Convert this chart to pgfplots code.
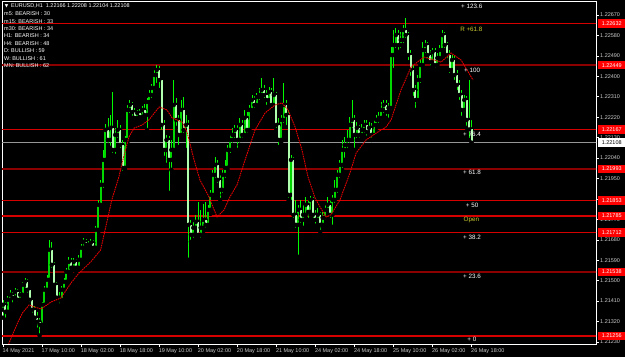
\documentclass[border=0pt]{standalone}
\usepackage{pgfplots}
\pgfplotsset{compat=1.18}
\usepackage{pgfplotstable}
\usepackage{fontspec}
\setmainfont{Liberation Sans}
\newfontfamily\symfont{DejaVu Sans}
\definecolor{wick}{RGB}{0,250,0}
\definecolor{bull}{RGB}{0,215,0}
\definecolor{bear}{RGB}{175,255,175}
\definecolor{lvl}{RGB}{215,0,0}
\definecolor{lvldark}{RGB}{140,0,0}
\definecolor{boxred}{RGB}{255,0,0}
\definecolor{tickgray}{RGB}{205,205,205}
\definecolor{fibyel}{RGB}{205,205,50}
\definecolor{bidgray}{RGB}{150,150,150}
\definecolor{mared}{RGB}{230,0,0}

\pgfplotstableread{
i o h l c
0 1.21372 1.21416 1.21337 1.21394
1 1.21394 1.21407 1.21328 1.21363
2 1.21363 1.21434 1.21354 1.21416
3 1.21416 1.21460 1.21403 1.21438
4 1.21438 1.21451 1.21394 1.21425
5 1.21425 1.21469 1.21416 1.21451
6 1.21451 1.21464 1.21398 1.21416
7 1.21416 1.21451 1.21407 1.21438
8 1.21438 1.21495 1.21425 1.21482
9 1.21482 1.21513 1.21460 1.21495
10 1.21495 1.21508 1.21438 1.21460
11 1.21460 1.21469 1.21398 1.21416
12 1.21416 1.21425 1.21350 1.21372
13 1.21372 1.21390 1.21319 1.21337
14 1.21337 1.21363 1.21284 1.21319
15 1.21319 1.21337 1.21258 1.21306
16 1.21306 1.21407 1.21293 1.21394
17 1.21394 1.21478 1.21381 1.21460
18 1.21460 1.21526 1.21451 1.21504
19 1.21504 1.21680 1.21491 1.21636
20 1.21636 1.21671 1.21548 1.21570
21 1.21570 1.21583 1.21469 1.21482
22 1.21482 1.21495 1.21407 1.21425
23 1.21425 1.21451 1.21390 1.21416
24 1.21416 1.21478 1.21403 1.21460
25 1.21460 1.21513 1.21447 1.21495
26 1.21495 1.21557 1.21482 1.21539
27 1.21539 1.21605 1.21526 1.21583
28 1.21583 1.21601 1.21539 1.21557
29 1.21557 1.21601 1.21548 1.21583
30 1.21583 1.21596 1.21539 1.21557
31 1.21557 1.21614 1.21548 1.21592
32 1.21592 1.21662 1.21583 1.21645
33 1.21645 1.21689 1.21636 1.21671
34 1.21671 1.21684 1.21640 1.21658
35 1.21658 1.21676 1.21632 1.21649
36 1.21649 1.21684 1.21636 1.21667
37 1.21667 1.21680 1.21627 1.21645
38 1.21645 1.21742 1.21632 1.21724
39 1.21724 1.21856 1.21711 1.21834
40 1.21834 1.21944 1.21821 1.21922
41 1.21922 1.22076 1.21900 1.22032
42 1.22032 1.22190 1.22019 1.22164
43 1.22164 1.22217 1.22098 1.22120
44 1.22120 1.22230 1.22085 1.22173
45 1.22173 1.22331 1.22054 1.22076
46 1.22076 1.22173 1.22050 1.22142
47 1.22142 1.22208 1.22120 1.22164
48 1.22164 1.22186 1.22076 1.22098
49 1.22098 1.22120 1.21975 1.21997
50 1.21997 1.22138 1.21988 1.22120
51 1.22120 1.22274 1.22107 1.22252
52 1.22252 1.22296 1.22230 1.22274
53 1.22274 1.22287 1.22217 1.22243
54 1.22243 1.22261 1.22199 1.22217
55 1.22217 1.22252 1.22204 1.22239
56 1.22239 1.22256 1.22208 1.22221
57 1.22221 1.22270 1.22212 1.22252
58 1.22252 1.22278 1.22217 1.22230
59 1.22230 1.22305 1.22164 1.22287
60 1.22287 1.22340 1.22274 1.22318
61 1.22318 1.22366 1.22296 1.22349
62 1.22349 1.22428 1.22331 1.22406
63 1.22406 1.22450 1.22362 1.22428
64 1.22428 1.22446 1.22340 1.22384
65 1.22384 1.22393 1.22155 1.22186
66 1.22186 1.22208 1.22041 1.22076
67 1.22076 1.22142 1.22010 1.22120
68 1.22120 1.22138 1.21887 1.22032
69 1.22032 1.22120 1.21988 1.22076
70 1.22076 1.22384 1.22067 1.22274
71 1.22274 1.22305 1.22173 1.22208
72 1.22208 1.22230 1.22089 1.22142
73 1.22142 1.22296 1.22129 1.22252
74 1.22252 1.22309 1.22142 1.22164
75 1.22164 1.22230 1.22076 1.22186
76 1.22186 1.22208 1.21592 1.21746
77 1.21746 1.21768 1.21671 1.21702
78 1.21702 1.21759 1.21680 1.21733
79 1.21733 1.21790 1.21715 1.21759
80 1.21759 1.21847 1.21689 1.21702
81 1.21702 1.21812 1.21680 1.21733
82 1.21733 1.21838 1.21715 1.21768
83 1.21768 1.21847 1.21724 1.21746
84 1.21746 1.21834 1.21733 1.21812
85 1.21812 1.21900 1.21794 1.21878
86 1.21878 1.21988 1.21865 1.21966
87 1.21966 1.22045 1.21944 1.22010
88 1.22010 1.22032 1.21922 1.21944
89 1.21944 1.21966 1.21856 1.21900
90 1.21900 1.21988 1.21878 1.21966
91 1.21966 1.22032 1.21944 1.21997
92 1.21997 1.22098 1.21988 1.22076
93 1.22076 1.22142 1.22054 1.22120
94 1.22120 1.22173 1.22098 1.22142
95 1.22142 1.22186 1.22120 1.22164
96 1.22164 1.22186 1.22076 1.22120
97 1.22120 1.22217 1.22098 1.22186
98 1.22186 1.22208 1.22120 1.22142
99 1.22142 1.22252 1.22129 1.22217
100 1.22217 1.22243 1.22142 1.22164
101 1.22164 1.22274 1.22151 1.22252
102 1.22252 1.22318 1.22239 1.22296
103 1.22296 1.22314 1.22252 1.22274
104 1.22274 1.22327 1.22261 1.22309
105 1.22309 1.22349 1.22287 1.22318
106 1.22318 1.22393 1.22305 1.22340
107 1.22340 1.22362 1.22296 1.22318
108 1.22318 1.22340 1.22265 1.22296
109 1.22296 1.22353 1.22278 1.22331
110 1.22331 1.22349 1.22252 1.22274
111 1.22274 1.22393 1.22261 1.22318
112 1.22318 1.22331 1.22164 1.22186
113 1.22186 1.22217 1.22089 1.22120
114 1.22120 1.22230 1.22107 1.22208
115 1.22208 1.22371 1.22186 1.22274
116 1.22274 1.22296 1.22177 1.22230
117 1.22230 1.22252 1.21856 1.21878
118 1.21878 1.22054 1.21847 1.22032
119 1.22032 1.22045 1.21768 1.21790
120 1.21790 1.21856 1.21724 1.21746
121 1.21746 1.21834 1.21605 1.21812
122 1.21812 1.21856 1.21746 1.21768
123 1.21768 1.21834 1.21733 1.21790
124 1.21790 1.21869 1.21777 1.21834
125 1.21834 1.21856 1.21768 1.21803
126 1.21803 1.21874 1.21790 1.21856
127 1.21856 1.21869 1.21768 1.21790
128 1.21790 1.21812 1.21742 1.21768
129 1.21768 1.21821 1.21750 1.21790
130 1.21790 1.21803 1.21715 1.21746
131 1.21746 1.21803 1.21733 1.21777
132 1.21777 1.21834 1.21759 1.21812
133 1.21812 1.21869 1.21794 1.21834
134 1.21834 1.21856 1.21768 1.21790
135 1.21790 1.21878 1.21737 1.21856
136 1.21856 1.21944 1.21834 1.21900
137 1.21900 1.21988 1.21878 1.21966
138 1.21966 1.22032 1.21944 1.22010
139 1.22010 1.22120 1.21988 1.22076
140 1.22076 1.22133 1.22032 1.22098
141 1.22098 1.22164 1.22076 1.22120
142 1.22120 1.22221 1.22098 1.22186
143 1.22186 1.22296 1.22164 1.22208
144 1.22208 1.22230 1.22076 1.22142
145 1.22142 1.22199 1.22120 1.22173
146 1.22173 1.22186 1.22120 1.22142
147 1.22142 1.22190 1.22129 1.22164
148 1.22164 1.22208 1.22142 1.22186
149 1.22186 1.22208 1.22129 1.22155
150 1.22155 1.22199 1.22138 1.22173
151 1.22173 1.22195 1.22120 1.22142
152 1.22142 1.22208 1.22129 1.22186
153 1.22186 1.22230 1.22173 1.22208
154 1.22208 1.22243 1.22186 1.22217
155 1.22217 1.22287 1.22199 1.22252
156 1.22252 1.22296 1.22230 1.22274
157 1.22274 1.22296 1.22217 1.22243
158 1.22243 1.22283 1.22208 1.22261
159 1.22261 1.22529 1.22243 1.22494
160 1.22494 1.22604 1.22428 1.22538
161 1.22538 1.22613 1.22516 1.22582
162 1.22582 1.22604 1.22507 1.22538
163 1.22538 1.22595 1.22516 1.22560
164 1.22560 1.22626 1.22538 1.22604
165 1.22604 1.22657 1.22560 1.22582
166 1.22582 1.22595 1.22463 1.22494
167 1.22494 1.22516 1.22393 1.22428
168 1.22428 1.22450 1.22305 1.22340
169 1.22340 1.22362 1.22252 1.22296
170 1.22296 1.22406 1.22278 1.22384
171 1.22384 1.22472 1.22362 1.22450
172 1.22450 1.22551 1.22437 1.22516
173 1.22516 1.22560 1.22494 1.22538
174 1.22538 1.22551 1.22472 1.22494
175 1.22494 1.22516 1.22437 1.22463
176 1.22463 1.22525 1.22446 1.22507
177 1.22507 1.22525 1.22428 1.22450
178 1.22450 1.22503 1.22437 1.22481
179 1.22481 1.22538 1.22463 1.22516
180 1.22516 1.22604 1.22498 1.22582
181 1.22582 1.22595 1.22516 1.22538
182 1.22538 1.22551 1.22472 1.22494
183 1.22494 1.22516 1.22406 1.22428
184 1.22428 1.22494 1.22410 1.22472
185 1.22472 1.22490 1.22375 1.22406
186 1.22406 1.22428 1.22331 1.22362
187 1.22362 1.22384 1.22287 1.22318
188 1.22318 1.22340 1.22217 1.22252
189 1.22252 1.22318 1.22234 1.22296
190 1.22296 1.22314 1.22173 1.22208
191 1.22208 1.22384 1.22120 1.22166
192 1.22166 1.22208 1.22104 1.22108
}\candles

\begin{document}
\begin{tikzpicture}
\path[use as bounding box, fill=black] (0,0) rectangle (625bp,357bp);
\begin{axis}[
  at={(2bp,13bp)}, anchor=south west,
  scale only axis, width=594bp, height=343bp,
  xmin=-0.4, xmax=243, ymin=1.21221, ymax=1.22732,
  clip mode=individual,
  axis line style={white, line width=0.8bp},
  tick align=outside, major tick length=3bp,
  tick style={white, line width=0.6bp},
  xtick pos=left, ytick pos=right,
  xticklabel pos=left, yticklabel pos=right,
  xtick={0,16,...,192},
  xticklabels={14 May 2021,17 May 10:00,18 May 02:00,18 May 18:00,19 May 10:00,20 May 02:00,20 May 18:00,21 May 10:00,24 May 02:00,24 May 18:00,25 May 10:00,26 May 02:00,26 May 18:00},
  xticklabel style={anchor=north west, inner sep=0pt, xshift=-0.5bp, yshift=-1bp, text=tickgray, font=\fontsize{5.5}{6}\selectfont},
  ytick={1.21230,1.21320,1.21410,1.21500,1.21590,1.21680,1.21770,1.21860,1.21950,1.22040,1.22130,1.22220,1.22310,1.22400,1.22490,1.22580,1.22670},
  yticklabels={1.21230,1.21320,1.21410,1.21500,1.21590,1.21680,1.21770,,1.21950,1.22040,1.22130,1.22220,1.22310,1.22400,1.22490,1.22580,1.22670},
  yticklabel style={anchor=west, inner sep=0pt, xshift=1bp, text=tickgray, font=\fontsize{5.5}{6}\selectfont},
]
% level lines
\addplot[lvl, line width=1.2bp, forget plot] coordinates {(-1,1.22632) (250,1.22632)};
\addplot[lvldark, line width=1.8bp, forget plot] coordinates {(-1,1.22449) (250,1.22449)};
\addplot[lvl, line width=1.2bp, forget plot] coordinates {(-1,1.22167) (250,1.22167)};
\addplot[bidgray, line width=1bp, forget plot] coordinates {(-1,1.22108) (250,1.22108)};
\addplot[lvldark, line width=1.8bp, forget plot] coordinates {(-1,1.21993) (250,1.21993)};
\addplot[lvl, line width=1.2bp, forget plot] coordinates {(-1,1.21853) (250,1.21853)};
\addplot[lvl, line width=1.2bp, forget plot] coordinates {(-1,1.21785) (250,1.21785)};
\addplot[lvl, line width=1.2bp, forget plot] coordinates {(-1,1.21712) (250,1.21712)};
\addplot[lvldark, line width=1.8bp, forget plot] coordinates {(-1,1.21538) (250,1.21538)};
\addplot[lvl, line width=1.2bp, forget plot] coordinates {(-1,1.21256) (250,1.21256)};
% wicks
\addplot[only marks, mark=none, forget plot,
  error bars/.cd, y dir=plus, y explicit, error mark=none,
  error bar style={wick, line width=0.8bp}]
  table[x=i, y=l, y error plus expr=\thisrow{h}-\thisrow{l}] {\candles};
% bullish bodies
\addplot[only marks, mark=none, forget plot,
  error bars/.cd, y dir=plus, y explicit, error mark=none,
  error bar style={bull, line width=2bp}]
  table[x=i, y=o, y error plus expr={max(\thisrow{c}-\thisrow{o},0)}] {\candles};
% bearish bodies
\addplot[only marks, mark=none, forget plot,
  error bars/.cd, y dir=plus, y explicit, error mark=none,
  error bar style={bear, line width=2bp}]
  table[x=i, y=c, y error plus expr={max(\thisrow{o}-\thisrow{c},0)}] {\candles};
% moving average
\addplot[mared, line width=0.9bp, dash pattern=on 1.6bp off 0.8bp, forget plot] coordinates {
(1.5,1.21190) (2.5,1.21226) (6,1.21314) (8,1.21358) (10.7,1.21393) (13,1.21384) (15.6,1.21375) (19.7,1.21406) (23.8,1.21424) (27.9,1.21490) (31.2,1.21534) (36,1.21583) (40,1.21635) (44.6,1.21856) (47.5,1.21957) (48.8,1.22018) (51.6,1.22133) (53.7,1.22172) (57,1.22186) (59.8,1.22208) (64,1.22265) (67.2,1.22252) (69.3,1.22217) (73.4,1.22199) (75.4,1.22155) (78.3,1.22032) (80.7,1.21944) (84.4,1.21869) (87.7,1.21781) (90.6,1.21812) (93,1.21869) (95.9,1.21922) (99.2,1.22032) (103.3,1.22164) (107.4,1.22239) (111.5,1.22274) (114.3,1.22283) (116.8,1.22252) (119.7,1.22177) (122.5,1.22076) (125,1.21957) (127.9,1.21864) (129.9,1.21825) (132.4,1.21781) (134.4,1.21790) (138.1,1.21856) (142.2,1.21975) (144.7,1.22062) (148.8,1.22120) (152.9,1.22150) (157,1.22177) (159,1.22208) (163.1,1.22340) (167.2,1.22441) (172.5,1.22485) (176.6,1.22472) (179.5,1.22463) (183.6,1.22503) (187.7,1.22472) (192.6,1.22384)};
% fibo labels
\begin{scope}[every node/.style={anchor=west, inner sep=0pt, font=\fontsize{6.3}{7}\selectfont, text=white}]
\node at (axis cs:187.7,1.22710) {+ 123.6};
\node[text=fibyel] at (axis cs:187.3,1.22608) {R +61.8};
\node at (axis cs:188.9,1.22428) {+ 100};
\node at (axis cs:188.5,1.22146) {+ 76.4};
\node at (axis cs:188.5,1.21975) {+ 61.8};
\node at (axis cs:189.6,1.21834) {+ 50};
\node[text=fibyel] at (axis cs:188.7,1.21768) {Open};
\node at (axis cs:188.5,1.21693) {+ 38.2};
\node at (axis cs:188.5,1.21517) {+ 23.6};
\node at (axis cs:190.2,1.21240) {+ 0};
\end{scope}
\coordinate (b1) at (axis cs:243,1.22632);
\coordinate (b2) at (axis cs:243,1.22449);
\coordinate (b3) at (axis cs:243,1.22167);
\coordinate (b4) at (axis cs:243,1.22108);
\coordinate (b5) at (axis cs:243,1.21993);
\coordinate (b6) at (axis cs:243,1.21853);
\coordinate (b7) at (axis cs:243,1.21785);
\coordinate (b8) at (axis cs:243,1.21712);
\coordinate (b9) at (axis cs:243,1.21538);
\coordinate (b10) at (axis cs:243,1.21256);
\end{axis}
% price boxes on the right
\begin{scope}[every node/.style={anchor=west, inner sep=0pt, xshift=2bp, minimum width=27bp, minimum height=8.5bp, font=\fontsize{5.5}{6}\selectfont, fill=boxred, text=white}]
\node at (b1) {1.22632};
\node at (b2) {1.22449};
\node at (b3) {1.22167};
\node[fill=white, text=black] at (b4) {1.22108};
\node at (b5) {1.21993};
\node at (b6) {1.21853};
\node at (b7) {1.21785};
\node at (b8) {1.21712};
\node at (b9) {1.21538};
\node at (b10) {1.21256};
\end{scope}
% header text
\node[anchor=center, inner sep=0pt, text=white, font=\symfont\fontsize{4.5}{5}\selectfont] at (6.5bp,351bp) {▼};
\begin{scope}[every node/.style={anchor=west, inner sep=0pt, text=white, font=\fontsize{5.5}{7}\selectfont}]
\node at (11bp,351bp) {EURUSD,H1\ \ 1.22166 1.22208 1.22104 1.22108};
\node at (4bp,343bp) {m5: BEARISH : 30};
\node at (4bp,335.7bp) {m15: BEARISH : 33};
\node at (4bp,328bp) {m30: BEARISH : 34};
\node at (4bp,321bp) {H1: BEARISH : 34};
\node at (4bp,313.7bp) {H4: BEARISH : 48};
\node at (4bp,306bp) {D: BULLISH : 59};
\node at (4bp,298.7bp) {W: BULLISH : 61};
\node at (4bp,291.3bp) {MN: BULLISH : 62};
\end{scope}
\end{tikzpicture}
\end{document}
